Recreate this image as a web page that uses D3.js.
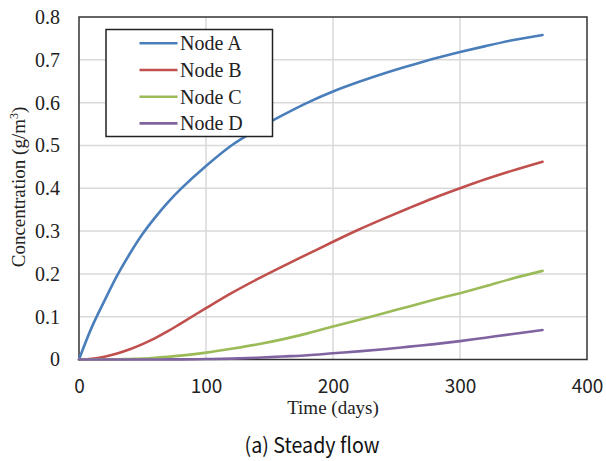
<!DOCTYPE html>
<html>
<head>
<meta charset="utf-8">
<script src="https://cdn.jsdelivr.net/npm/d3@7"></script>
<style>
  html, body { margin: 0; padding: 0; background: #fff; }
  svg { display: block; }
</style>
</head>
<body>
<svg id="chart" width="606" height="461"></svg>
<script>
// Sampling days for each simulated node
const days = [0, 10, 20, 30, 40, 50, 60, 70, 80, 100, 120, 140, 160, 180, 200, 220, 240, 260, 280, 300, 320, 340, 365];

// Concentration (g/m3) at each node
const nodeA = [0, 0.075, 0.137, 0.196, 0.247, 0.293, 0.332, 0.367, 0.398, 0.452, 0.50, 0.537, 0.570, 0.600, 0.626, 0.648, 0.668, 0.686, 0.703, 0.718, 0.732, 0.745, 0.758];
const nodeB = [0, 0.0018, 0.0065, 0.014, 0.024, 0.036, 0.050, 0.066, 0.084, 0.120, 0.155, 0.187, 0.217, 0.246, 0.275, 0.303, 0.329, 0.354, 0.378, 0.400, 0.421, 0.440, 0.462];
const nodeC = [0, 0, 0.0002, 0.0006, 0.0012, 0.002, 0.004, 0.0062, 0.009, 0.016, 0.025, 0.035, 0.047, 0.061, 0.077, 0.092, 0.108, 0.124, 0.140, 0.155, 0.171, 0.188, 0.207];
const nodeD = [0, 0, 0, 0, 0, 0, 0.0001, 0.0002, 0.0004, 0.001, 0.002, 0.004, 0.007, 0.010, 0.0145, 0.019, 0.024, 0.030, 0.036, 0.043, 0.051, 0.059, 0.069];

const seriesNames = ["Node A", "Node B", "Node C", "Node D"];
const seriesColors = ["#4a7ebb", "#c0504d", "#9bbb59", "#8064a2"];
const xTicks = [0, 100, 200, 300, 400];
const yTicks = [0, 0.1, 0.2, 0.3, 0.4, 0.5, 0.6, 0.7, 0.8];

const series = [nodeA, nodeB, nodeC, nodeD].map((vals, i) => ({
  name: seriesNames[i],
  color: seriesColors[i],
  points: days.map((d, j) => ({ t: d, c: vals[j] }))
}));

const svg = d3.select("#chart");
const plot = { left: 79, right: 587, top: 17, bottom: 359.5 };

const x = d3.scaleLinear().domain([0, 400]).range([plot.left, plot.right]);
const y = d3.scaleLinear().domain([0, 0.8]).range([plot.bottom, plot.top]);

// Gridlines
const grid = svg.append("g");
grid.selectAll("line.h").data(yTicks.slice(1, -1)).join("line")
  .attr("x1", plot.left).attr("x2", plot.right)
  .attr("y1", d => y(d)).attr("y2", d => y(d))
  .attr("stroke", "#d9d9d9").attr("stroke-width", 1.5);
grid.selectAll("line.v").data(xTicks.slice(1, -1)).join("line")
  .attr("y1", plot.top).attr("y2", plot.bottom)
  .attr("x1", d => x(d)).attr("x2", d => x(d))
  .attr("stroke", "#d9d9d9").attr("stroke-width", 1.5);

// Frame
svg.append("rect")
  .attr("x", plot.left).attr("y", plot.top)
  .attr("width", plot.right - plot.left).attr("height", plot.bottom - plot.top)
  .attr("fill", "none").attr("stroke", "#333").attr("stroke-width", 1.5);

// Y axis tick labels
const yAxis = d3.axisLeft(y).tickValues(yTicks).tickSize(0).tickPadding(19)
  .tickFormat(d => d === 0 ? "0" : d3.format(".1f")(d));
svg.append("g").attr("transform", `translate(${plot.left},0)`).call(yAxis)
  .call(g => g.select(".domain").remove())
  .selectAll("text")
  .attr("font-family", "'Liberation Serif', 'Times New Roman', serif")
  .attr("font-size", 20).attr("fill", "#222");

// X axis tick labels
const xAxis = d3.axisBottom(x).tickValues(xTicks).tickSize(0).tickPadding(20);
svg.append("g").attr("transform", `translate(0,${plot.bottom})`).call(xAxis)
  .call(g => g.select(".domain").remove())
  .selectAll("text")
  .attr("font-family", "'Noto Sans CJK KR', 'DejaVu Sans', sans-serif")
  .attr("font-size", 19).attr("fill", "#222");

// Concentration curves
const line = d3.line().x(d => x(d.t)).y(d => y(d.c)).curve(d3.curveCatmullRom.alpha(0.5));
svg.append("g").selectAll("path").data(series).join("path")
  .attr("d", d => line(d.points))
  .attr("fill", "none")
  .attr("stroke", d => d.color)
  .attr("stroke-width", 2.6)
  .attr("stroke-linecap", "round");

// Axis titles
svg.append("text")
  .attr("x", 333).attr("y", 414)
  .attr("text-anchor", "middle")
  .attr("font-family", "'Liberation Serif', 'Times New Roman', serif")
  .attr("font-size", 19).attr("fill", "#222")
  .text("Time (days)");

const yTitle = svg.append("text")
  .attr("transform", "translate(25,187) rotate(-90)")
  .attr("text-anchor", "middle")
  .attr("font-family", "'Liberation Serif', 'Times New Roman', serif")
  .attr("font-size", 19).attr("fill", "#222");
yTitle.append("tspan").text("Concentration (g/m");
yTitle.append("tspan").attr("font-size", 12).attr("dy", -7).text("3");
yTitle.append("tspan").attr("dy", 7).text(")");

// Legend
const legend = svg.append("g");
legend.append("rect")
  .attr("x", 106).attr("y", 29.5).attr("width", 166.5).attr("height", 107)
  .attr("fill", "#fff").attr("stroke", "#222").attr("stroke-width", 1.5);
const items = legend.selectAll("g.item").data(series).join("g")
  .attr("transform", (d, i) => `translate(0,${43.3 + i * 26.7})`);
items.append("line")
  .attr("x1", 139.5).attr("x2", 177.5).attr("y1", 0).attr("y2", 0)
  .attr("stroke", d => d.color).attr("stroke-width", 2.6);
items.append("text")
  .attr("x", 180).attr("y", 0).attr("dy", "0.35em")
  .attr("font-family", "'Liberation Serif', 'Times New Roman', serif")
  .attr("font-size", 20).attr("fill", "#222")
  .text(d => d.name);

// Caption
svg.append("text")
  .attr("x", 312).attr("y", 453)
  .attr("text-anchor", "middle")
  .attr("font-family", "'Noto Sans CJK KR', 'DejaVu Sans', sans-serif")
  .attr("font-size", 21).attr("fill", "#111")
  .attr("textLength", 135).attr("lengthAdjust", "spacingAndGlyphs")
  .text("(a) Steady flow");
</script>
</body>
</html>
